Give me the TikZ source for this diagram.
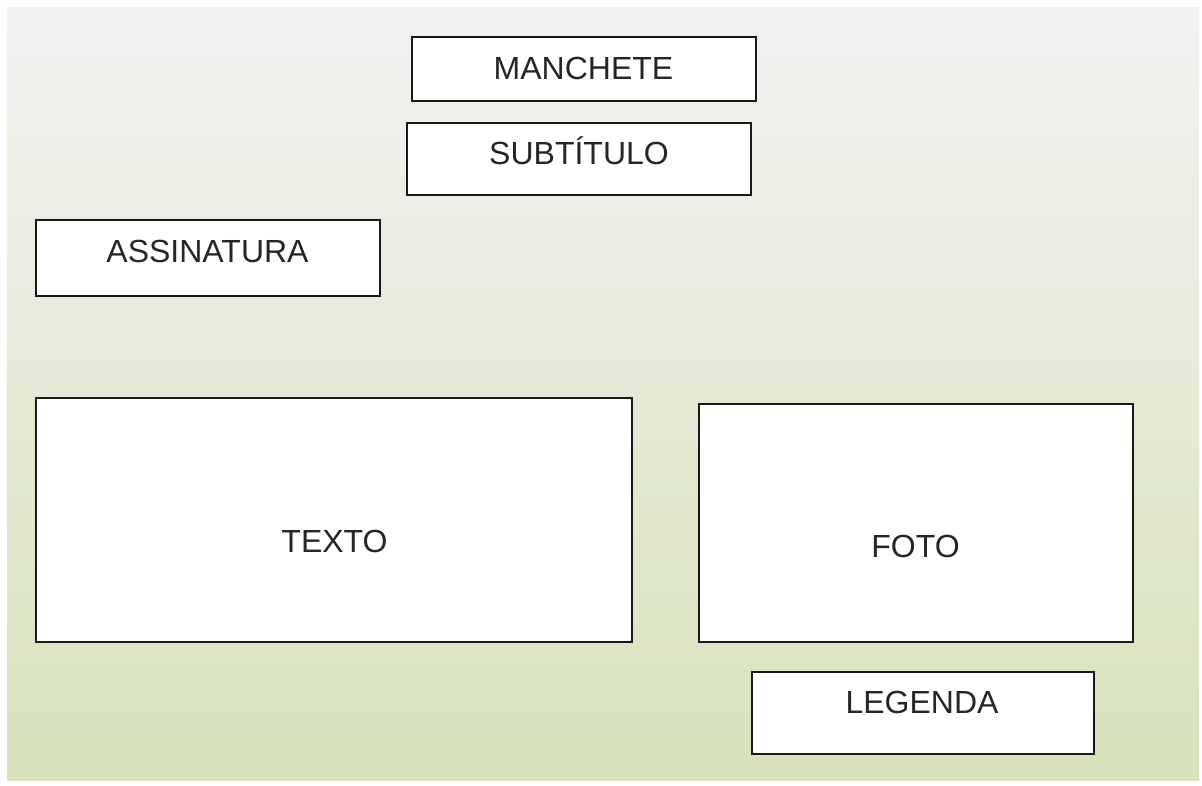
\documentclass[tikz,border=0pt]{standalone}
\usepackage{fontspec}
\setmainfont{Liberation Sans}
\begin{document}
\begin{tikzpicture}[x=1pt, y=-1pt,
    box/.style = {draw=black!90, line width=1.8pt, fill=white, inner sep=0pt},
    txt/.style = {text=black!85, inner sep=0pt, text height=23pt, text depth=0pt,
                  font=\fontsize{32}{38}\selectfont}]
    \useasboundingbox (0,0) rectangle (1202,785);
    \fill[white] (0,0) rectangle (1202,785);
    \shade[top color=black!5, bottom color={rgb,255:red,215;green,225;blue,187}]
        (7,7) rectangle (1199,780);
    \node[box, minimum width=344, minimum height=64] (manchete) at (584,69) {};
    \node[box, minimum width=344, minimum height=72] (subtitulo) at (579,159) {};
    \node[box, minimum width=344, minimum height=76] (assinatura) at (208,258) {};
    \node[box, minimum width=596, minimum height=244] (texto) at (334,520) {};
    \node[box, minimum width=434, minimum height=238] (foto) at (916,523) {};
    \node[box, minimum width=342, minimum height=82] (legenda) at (923,713) {};
    \node[txt] (manchete text) at (583.5,67.5) {MANCHETE};
    \node[txt] (subtitulo text) at (579,152.5) {SUBTÍTULO};
    \node[txt] (assinatura text) at (207.5,250.5) {ASSINATURA};
    \node[txt] (texto text) at (334.5,540.5) {TEXTO};
    \node[txt] (foto text) at (915.5,546) {FOTO};
    \node[txt] (legenda text) at (922,701.5) {LEGENDA};
\end{tikzpicture}
\end{document}
